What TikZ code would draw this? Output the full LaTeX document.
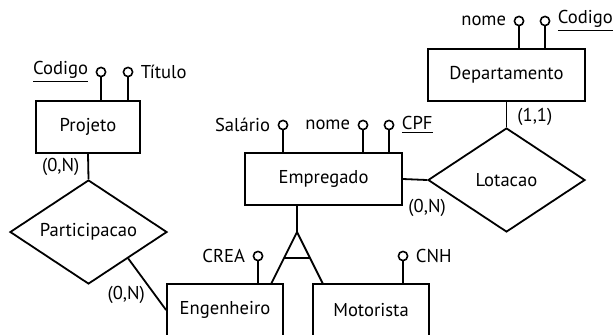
\documentclass[tikz,border=0pt]{standalone}
\usepackage{fontspec}
\setmainfont{PT Sans}
\usetikzlibrary{shapes.geometric,calc}
\tikzset{
  entity/.style={draw, minimum height=26pt, inner sep=0pt},
  rel/.style={draw, diamond, aspect=1.5, minimum width=78.5pt, minimum height=52pt, inner sep=0pt},
  attr/.style={draw, circle, line width=0.8pt, minimum size=4.6pt, inner sep=0pt},
  card/.style={inner sep=0pt}
}
\begin{document}
\begin{tikzpicture}[x=0.5pt, y=-0.5pt, line width=0.9pt, font=\fontsize{9.3}{11}\selectfont]
        \useasboundingbox (0,0) rectangle (615,334);
        % Entities
        \node[entity, minimum width=52pt] (proj) at (88,127) {Projeto};
        \node[entity, minimum width=78.5pt] (emp) at (323.5,179) {Empregado};
        \node[entity, minimum width=78.5pt] (dep) at (506.5,75) {Departamento};
        \node[entity, minimum width=58pt] (eng) at (225,310) {Engenheiro};
        \node[entity, minimum width=58pt] (mot) at (371,310) {Motorista};
        % Relationships
        \node[rel] (part) at (88.5,232) {Participacao};
        \node[rel] (lot) at (506.5,180) {Lotacao};
        % Attributes
        \node[attr, label={left:\underline{Codigo}}] (pcod) at (101,72) {};
        \node[attr, label={right:Título}] (ptit) at (128,72) {};
        \node[attr, label={left:Salário}] (esal) at (283,125) {};
        \node[attr, label={left:nome}] (enom) at (363,125) {};
        \node[attr, label={right:\underline{CPF}}] (ecpf) at (389,125) {};
        \node[attr, label={left:nome}] (dnom) at (519,21) {};
        \node[attr, label={right:\underline{Codigo}}] (dcod) at (545,21) {};
        \node[attr, label={left:CREA}] (crea) at (258,256) {};
        \node[attr, label={right:CNH}] (cnh) at (403,256) {};
        \foreach \a/\e in {pcod/proj, ptit/proj, esal/emp, enom/emp, ecpf/emp, dnom/dep, dcod/dep, crea/eng, cnh/mot}
          \draw (\a.south) -- (\a |- \e.north);
        % Connections
        \draw (proj.south) -- (part.north) node[card, pos=0.5, left=4pt] {(0,N)};
        \draw ($(part.east)!0.5!(part.south)$) -- (eng.west) node[card, pos=0.7, left=4.5pt] {(0,N)};
        \draw (emp.east) -- (lot.west) node[card, pos=1, below=9pt] {(0,N)};
        \draw (dep.south) -- (lot.north) node[card, pos=0.6, right=5pt] {(1,1)};
        % Specialization
        \coordinate (isa) at (297,232);
        \coordinate (isaL) at (271,284);
        \coordinate (isaR) at (323,284);
        \draw (isa |- emp.south) -- (isa);
        \draw (isaL) -- (isa) -- (isaR);
        \draw ($(isa)!0.5!(isaL)$) -- ($(isa)!0.5!(isaR)$);
    \end{tikzpicture}
\end{document}
